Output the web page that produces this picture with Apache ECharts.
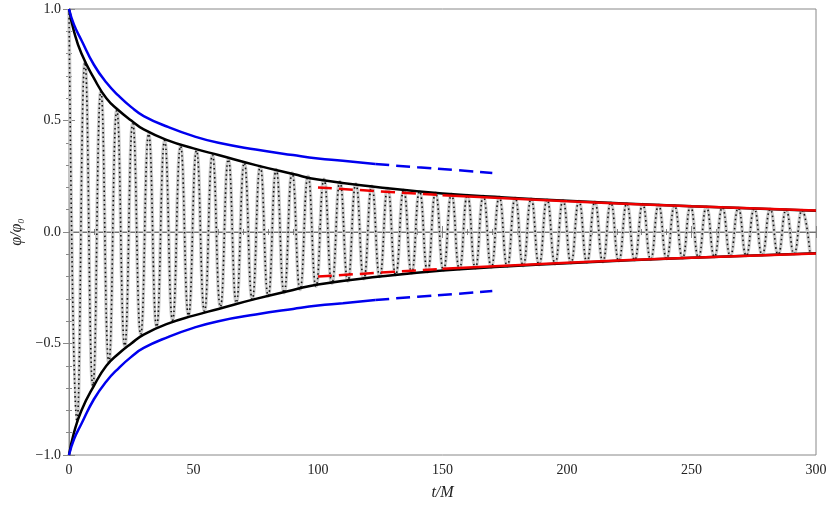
<!DOCTYPE html><html><head><meta charset="utf-8"><script src="https://cdn.jsdelivr.net/npm/echarts@6/dist/echarts.min.js"></script></head><body style="margin:0"><div id="c" style="width:830px;height:513px"></div><script>
const xTicks=[0,50,100,150,200,250,300];
const yTicks=[-1,-0.5,0,0.5,1];
const oscStep=3.2;
const oscAmp=[1.00,0.85,0.76,0.69,0.63,0.585,0.545,0.51,0.485,0.46,0.44,0.425,0.41,0.395,0.385,0.375,0.365,0.355,0.345,0.335,0.325,0.317,0.31,0.302,0.295,0.287,0.28,0.272,0.265,0.258,0.25,0.243,0.236,0.23,0.225,0.22,0.215,0.21,0.205,0.2,0.196,0.192,0.188,0.185,0.182,0.179,0.176,0.173,0.17,0.167,0.165,0.163,0.161,0.159,0.157,0.155,0.153,0.151,0.149,0.147,0.145,0.143,0.141,0.139,0.138,0.136,0.134,0.133,0.131,0.130,0.128,0.126,0.125,0.123,0.121,0.120,0.118,0.117,0.115,0.114,0.112,0.111,0.110,0.108,0.107,0.106,0.104,0.103,0.102,0.100,0.099,0.098,0.097,0.096];
const blackT=[0,2,5,10,15,20,25,30,40,50,60,75,90,100,125,150,175,200,250,300];
const blackV=[1,0.9,0.8,0.69,0.6,0.545,0.5,0.46,0.41,0.375,0.345,0.3,0.26,0.235,0.2,0.173,0.155,0.14,0.115,0.095];
const blueT=[0,2,5,10,15,20,25,30,40,50,60,75,90,100,110,123];
const blueV=[1,0.93,0.86,0.75,0.67,0.61,0.56,0.52,0.47,0.43,0.40,0.37,0.345,0.33,0.32,0.305];
const blueDashT=[123,140,155,170];
const blueDashV=[0.305,0.29,0.278,0.265];
const redDashT=[100,125,150];
const redDashV=[0.2,0.182,0.165];
const redT=[150,200,250,300];
const redV=[0.165,0.138,0.115,0.096];
const osc=oscAmp.map((a,k)=>[k*oscStep,k%2?-a:a]);
const pair=(T,V,s)=>T.map((t,i)=>[t,s*V[i]]);
const ln=(data,color,width,type,z)=>({type:'line',data,smooth:true,symbol:'none',z:z||3,lineStyle:{color,width,type:type||'solid'},silent:true});
const font='Liberation Serif';
const series=[
 ln([[0,0],[300,0]],'#555',0.8,'solid',1),
 ln(osc,'#cccccc',3.5,'solid',2),
 ln(osc,'#111',1.6,[1.5,3],2),
 ln(pair(blackT,blackV,1),'#000',2.5),ln(pair(blackT,blackV,-1),'#000',2.5),
 ln(pair(blueT,blueV,1),'#0000ee',2.5),ln(pair(blueT,blueV,-1),'#0000ee',2.5),
 ln(pair(blueDashT,blueDashV,1),'#0000ee',2.5,[14,7]),ln(pair(blueDashT,blueDashV,-1),'#0000ee',2.5,[14,7]),
 ln(pair(redDashT,redDashV,1),'#ee0000',2.5,[14,7],4),ln(pair(redDashT,redDashV,-1),'#ee0000',2.5,[14,7],4),
 ln(pair(redT,redV,1),'#ee0000',2.5,'solid',4),ln(pair(redT,redV,-1),'#ee0000',2.5,'solid',4)
];
const ax=(inv)=>({axisLine:{show:true,lineStyle:{color:'#888'}},axisTick:{show:true,inside:true,length:6,lineStyle:{color:'#888'}},minorTick:{show:true,splitNumber:5,length:3,lineStyle:{color:'#888'}},splitLine:{show:false}});
const c=echarts.init(document.getElementById('c'));
c.setOption({animation:false,
 grid:{left:69,right:14,top:9,bottom:58,show:true,borderColor:'#888',borderWidth:1},
 xAxis:[Object.assign({type:'value',min:0,max:300,interval:50,name:'t/M',nameLocation:'middle',nameGap:30,
  nameTextStyle:{fontFamily:font,fontSize:16,fontStyle:'italic',color:'#222'},
  axisLabel:{fontFamily:font,fontSize:14,color:'#222'}},ax()),
  Object.assign({type:'value',min:0,max:300,interval:50,position:'top',axisLabel:{show:false}},ax())],
 yAxis:[Object.assign({type:'value',min:-1,max:1,interval:0.5,name:'φ/φ₀',nameLocation:'middle',nameGap:42,
  nameTextStyle:{fontFamily:font,fontSize:16,fontStyle:'italic',color:'#222'},
  axisLabel:{fontFamily:font,fontSize:14,color:'#222',formatter:v=>(v<0?'−':'')+Math.abs(v).toFixed(1)}},ax()),
  Object.assign({type:'value',min:-1,max:1,interval:0.5,position:'right',axisLabel:{show:false}},ax())],
 series});
</script></body></html>
